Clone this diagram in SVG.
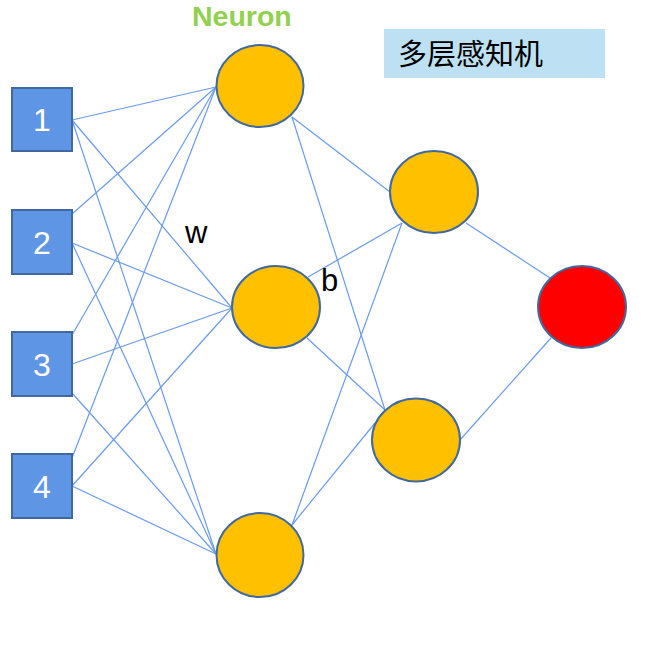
<svg xmlns="http://www.w3.org/2000/svg" width="657" height="649" viewBox="0 0 657 649">
<style>
.box{fill:#5E95E4;stroke:#41699F;stroke-width:2}
.neu{fill:#FFC000;stroke:#41699F;stroke-width:2}
.out{fill:#FF0000;stroke:#41699F;stroke-width:2}
.num{font-family:"Liberation Sans",Arial,sans-serif;font-size:32px;fill:#FFFFFF;text-anchor:middle}
.lbl{font-family:"Liberation Sans",Arial,sans-serif;font-size:31px;fill:#000000}
#connectors line{stroke:#6A9BEA;stroke-width:1.2}
</style>
<rect width="657" height="649" fill="#FFFFFF"/>
<g id="connectors">
<line x1="72" y1="120" x2="216" y2="87"/>
<line x1="72" y1="120" x2="232" y2="308"/>
<line x1="72" y1="120" x2="216" y2="554"/>
<line x1="72" y1="214" x2="216" y2="87"/>
<line x1="72" y1="243" x2="232" y2="308"/>
<line x1="72" y1="243" x2="216" y2="554"/>
<line x1="72" y1="335" x2="216" y2="87"/>
<line x1="72" y1="364" x2="232" y2="308"/>
<line x1="72" y1="393" x2="216" y2="554"/>
<line x1="72" y1="458" x2="216" y2="87"/>
<line x1="72" y1="486" x2="232" y2="308"/>
<line x1="72" y1="486" x2="216" y2="554"/>
<line x1="292" y1="117" x2="390" y2="192"/>
<line x1="292" y1="117" x2="385" y2="410"/>
<line x1="308" y1="277" x2="402" y2="223"/>
<line x1="307" y1="338" x2="385" y2="410"/>
<line x1="292" y1="525" x2="402" y2="223"/>
<line x1="292" y1="525" x2="375" y2="423"/>
<line x1="466" y1="223" x2="550" y2="278"/>
<line x1="460" y1="440" x2="551" y2="338"/>
</g>
<g id="title">
<rect x="384" y="29" width="221" height="49" fill="#BDE0F3"/>
<text x="398" y="65" font-family="'Noto Sans CJK SC',sans-serif" font-size="29" fill="#000000">多层感知机</text>
</g>
<g id="neuron-label">
<text x="192" y="26" font-family="'Liberation Sans',Arial,sans-serif" font-size="28.5" font-weight="bold" fill="#92D050">Neuron</text>
</g>
<g id="w-label"><text class="lbl" x="185" y="243">w</text></g>
<g id="b-label"><text class="lbl" x="321" y="291">b</text></g>
<g id="input1"><rect class="box" x="12" y="88" width="60" height="63"/><text class="num" x="42" y="131">1</text></g>
<g id="input2"><rect class="box" x="12" y="210" width="60" height="64"/><text class="num" x="42" y="254">2</text></g>
<g id="input3"><rect class="box" x="12" y="332" width="60" height="64"/><text class="num" x="42" y="376">3</text></g>
<g id="input4"><rect class="box" x="12" y="454" width="60" height="64"/><text class="num" x="42" y="498">4</text></g>
<g id="h1a"><ellipse class="neu" cx="260" cy="86" rx="43.5" ry="41"/></g>
<g id="h1b"><ellipse class="neu" cx="276" cy="307" rx="44" ry="41"/></g>
<g id="h1c"><ellipse class="neu" cx="260" cy="555" rx="43.5" ry="42"/></g>
<g id="h2a"><ellipse class="neu" cx="434" cy="192" rx="44" ry="41"/></g>
<g id="h2b"><ellipse class="neu" cx="416" cy="440" rx="44" ry="41.5"/></g>
<g id="output"><ellipse class="out" cx="582" cy="307" rx="44" ry="41"/></g>
</svg>
